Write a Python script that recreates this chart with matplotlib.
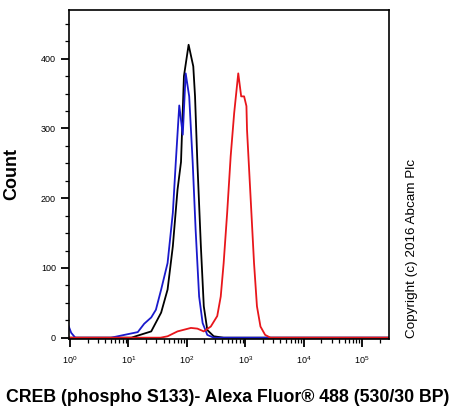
import numpy as np
import matplotlib
matplotlib.use("Agg")
import matplotlib.pyplot as plt
from matplotlib.ticker import LogLocator, MultipleLocator, LogFormatterSciNotation

plt.rcParams['font.family'] = ['Liberation Sans', 'DejaVu Sans']

# histogram outlines: log10(intensity) and count
black_log = [-0.05, 1.05, 1.16, 1.39, 1.56, 1.67, 1.76, 1.84, 1.90, 1.95, 2.03,
             2.11, 2.14, 2.18, 2.24, 2.29, 2.35, 2.46, 2.63, 5.46]
black_cnt = [0, 0, 3, 9, 36, 69, 131, 212, 252, 375, 420,
             389, 346, 251, 131, 45, 11, 2, 0, 0]

blue_log = [-0.03, 0.02, 0.09, 0.70, 0.76, 0.93, 1.16, 1.27, 1.39, 1.47, 1.56,
            1.67, 1.76, 1.81, 1.87, 1.93, 1.98, 2.04, 2.10, 2.15, 2.21, 2.27,
            2.35, 2.46, 5.46]
blue_cnt = [18, 7, 0, 0, 1, 4, 8, 20, 29, 40, 69,
            107, 179, 251, 333, 291, 379, 346, 251, 155, 59, 21,
            4, 0, 0]

red_log = [-0.05, 1.55, 1.67, 1.84, 2.07, 2.18, 2.29, 2.41, 2.52, 2.58, 2.63,
           2.69, 2.75, 2.81, 2.88, 2.93, 2.98, 3.02, 3.03, 3.09, 3.15, 3.20,
           3.26, 3.34, 3.43, 5.46]
red_cnt = [0, 0, 2, 9, 14, 13, 9, 16, 31, 59, 107,
           179, 260, 322, 379, 346, 346, 332, 298, 203, 107, 45,
           16, 4, 0, 0]

fig = plt.figure(figsize=(4.56, 4.12), dpi=100)
ax = fig.add_axes([0.151, 0.177, 0.702, 0.799])

ax.plot(10 ** np.array(black_log), black_cnt, color='black', lw=1.3)
ax.plot(10 ** np.array(blue_log), blue_cnt, color='#1a1acc', lw=1.3)
ax.plot(10 ** np.array(red_log), red_cnt, color='#e8161b', lw=1.3)

ax.set_xscale('log')
ax.set_xlim(10 ** -0.02, 10 ** 5.46)
ax.set_ylim(-2, 470)

ax.xaxis.set_major_locator(LogLocator(base=10, numticks=10))
ax.xaxis.set_minor_locator(LogLocator(base=10, subs=np.arange(2, 10), numticks=20))
ax.xaxis.set_major_formatter(LogFormatterSciNotation())
ax.yaxis.set_major_locator(MultipleLocator(100))
ax.yaxis.set_minor_locator(MultipleLocator(25))

ax.tick_params(axis='both', which='major', length=5.8, width=1.3, labelsize=6.5)
ax.tick_params(axis='both', which='minor', length=3, width=0.9)
ax.tick_params(axis='x', which='major', pad=5)
for s in ax.spines.values():
    s.set_linewidth(1.2)

ax.set_ylabel('Count', fontsize=13, fontweight='bold', labelpad=15)
fig.text(0.5, 0.035, 'CREB (phospho S133)- Alexa Fluor® 488 (530/30 BP)',
         ha='center', va='center', fontsize=12.8, fontweight='bold')
fig.text(0.903, 0.398, 'Copyright (c) 2016 Abcam Plc', rotation=90,
         ha='center', va='center', fontsize=9.7)

fig.savefig('out.png', dpi=100)
